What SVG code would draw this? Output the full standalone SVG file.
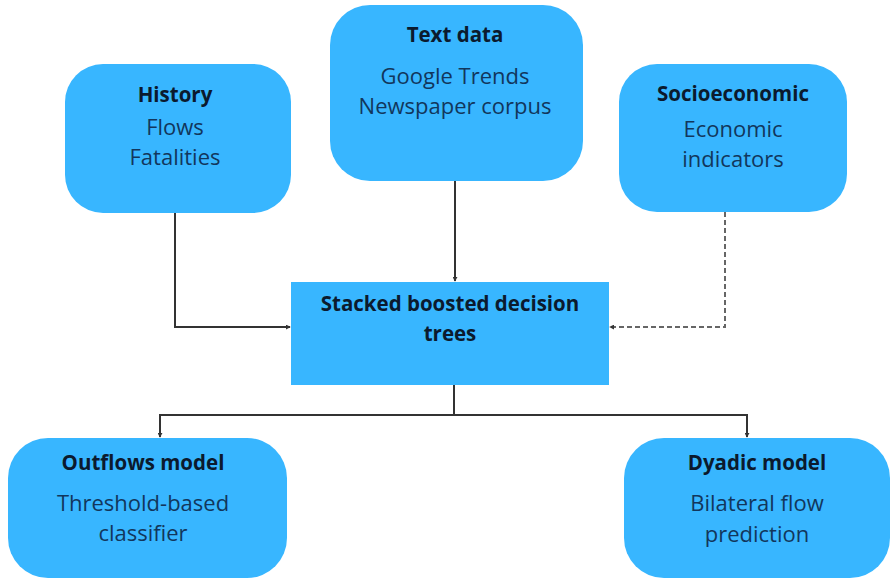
<svg xmlns="http://www.w3.org/2000/svg" width="896" height="583" viewBox="0 0 896 583">
<defs>
<marker id="ah" viewBox="0 0 6 6" refX="5" refY="3" markerWidth="5" markerHeight="5" orient="auto" markerUnits="userSpaceOnUse">
<path d="M0,0 L6,3 L0,6 z" fill="#333"/>
</marker>
<style>
.box{fill:#38b6ff}
.t{font-family:"Open Sans","Liberation Sans",sans-serif;font-size:20.5px;font-weight:700;fill:#0b1a2e;text-anchor:middle}
.b{font-family:"Open Sans","Liberation Sans",sans-serif;font-size:22px;fill:#12365c;text-anchor:middle}
.c{fill:none;stroke:#333;stroke-width:2}
.d{fill:none;stroke:#666;stroke-width:2;stroke-dasharray:5,3}
</style>
</defs>
<rect width="896" height="583" fill="#fff"/>
<g id="connectors">
<path class="c" d="M175,213 V327 H290" marker-end="url(#ah)"/>
<path class="c" d="M455,181 V281" marker-end="url(#ah)"/>
<path class="d" d="M725,212 V327 H610" marker-end="url(#ah)"/>
<path class="c" d="M454,385 V415"/>
<path class="c" d="M160,415 H747"/>
<path class="c" d="M160,414 V437" marker-end="url(#ah)"/>
<path class="c" d="M747,414 V437" marker-end="url(#ah)"/>
</g>
<g id="text-data">
<rect class="box" x="330" y="5" width="253" height="176" rx="40"/>
<text class="t" x="455" y="42">Text data</text>
<text class="b" x="455" y="84">Google Trends</text>
<text class="b" x="455" y="114">Newspaper corpus</text>
</g>
<g id="history">
<rect class="box" x="65" y="64" width="226" height="149" rx="38"/>
<text class="t" x="175" y="102">History</text>
<text class="b" x="175" y="135">Flows</text>
<text class="b" x="175" y="165">Fatalities</text>
</g>
<g id="socioeconomic">
<rect class="box" x="619" y="64" width="228" height="148" rx="38"/>
<text class="t" x="733" y="101">Socioeconomic</text>
<text class="b" x="733" y="137">Economic</text>
<text class="b" x="733" y="167">indicators</text>
</g>
<g id="stacked">
<rect class="box" x="291" y="282" width="318" height="103"/>
<text class="t" x="450" y="311">Stacked boosted decision</text>
<text class="t" x="450" y="341">trees</text>
</g>
<g id="outflows">
<rect class="box" x="8" y="438" width="279" height="140" rx="40"/>
<text class="t" x="143" y="470">Outflows model</text>
<text class="b" x="143" y="511">Threshold-based</text>
<text class="b" x="143" y="541">classifier</text>
</g>
<g id="dyadic">
<rect class="box" x="624" y="438" width="266" height="140" rx="40"/>
<text class="t" x="757" y="470">Dyadic model</text>
<text class="b" x="757" y="511">Bilateral flow</text>
<text class="b" x="757" y="542">prediction</text>
</g>
</svg>
